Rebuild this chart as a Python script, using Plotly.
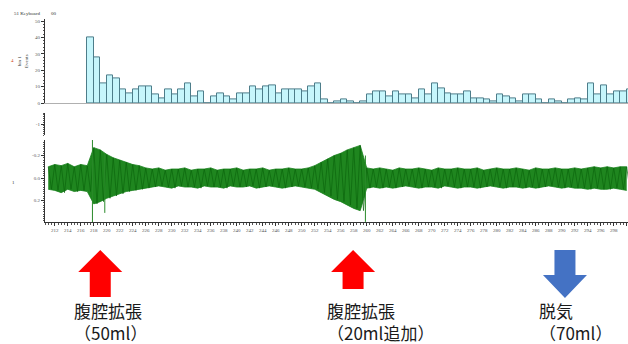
import plotly.graph_objects as go

W, H = 628, 344
ML = 45  # left margin (px)

# ---------------- data ----------------
bin_start = 217
event_counts = [40, 28, 12, 17, 15, 8, 6, 8, 10, 10, 5, 3, 8, 5, 8, 12, 4, 7, 0, 4,
                6, 4, 2, 6, 6, 10, 8, 10, 11, 6, 8, 8, 8, 7, 10, 12, 2, 0, 1,
                2, 1, 0, 1, 5, 7, 7, 4, 7, 5, 5, 3, 8, 5, 12, 9, 6, 5, 5, 7, 3,
                3, 2, 1, 5, 4, 3, 1, 5, 5, 2, 0, 2, 1, 0, 2, 3, 2, 12, 5, 11, 5, 7, 7, 8]
bin_times = [bin_start + i + 0.5 for i in range(len(event_counts))]

wave_time = list(range(211, 301))
wave_top = [-0.10, -0.12, -0.11, -0.13, -0.10, -0.12, -0.11,
            -0.27, -0.25, -0.21, -0.18, -0.16, -0.14, -0.12, -0.11, -0.09,
            -0.08, -0.09, -0.07, -0.08, -0.08, -0.09, -0.07, -0.08, -0.08, -0.09,
            -0.07, -0.08, -0.08, -0.09, -0.07, -0.08, -0.08, -0.09, -0.07, -0.08,
            -0.08, -0.09, -0.08, -0.08, -0.09,
            -0.11, -0.14, -0.17, -0.20, -0.22, -0.25, -0.27, -0.29,
            -0.09, -0.08, -0.09, -0.08, -0.07, -0.09, -0.08, -0.08, -0.09, -0.08,
            -0.07, -0.09, -0.08, -0.08, -0.09, -0.08, -0.08, -0.09, -0.07, -0.08,
            -0.09, -0.08, -0.08, -0.09, -0.08, -0.07, -0.09, -0.08, -0.08, -0.09,
            -0.08, -0.08, -0.09, -0.08, -0.09, -0.10, -0.09, -0.10, -0.09, -0.10, -0.10]
wave_bottom = [0.10, 0.11, 0.13, 0.10, 0.12, 0.11, 0.12,
               0.23, 0.21, 0.18, 0.16, 0.14, 0.12, 0.11, 0.10, 0.09,
               0.08, 0.07, 0.08, 0.09, 0.07, 0.08, 0.08, 0.09, 0.07, 0.08,
               0.08, 0.09, 0.07, 0.08, 0.08, 0.07, 0.09, 0.08, 0.07, 0.08,
               0.09, 0.08, 0.07, 0.08, 0.09,
               0.10, 0.13, 0.16, 0.19, 0.21, 0.24, 0.27, 0.29,
               0.09, 0.08, 0.09, 0.08, 0.09, 0.08, 0.07, 0.08, 0.09, 0.08,
               0.08, 0.09, 0.07, 0.08, 0.09, 0.08, 0.08, 0.09, 0.08, 0.07,
               0.08, 0.09, 0.08, 0.08, 0.09, 0.08, 0.09, 0.08, 0.07, 0.08,
               0.09, 0.08, 0.09, 0.09, 0.10, 0.09, 0.10, 0.10, 0.09, 0.10, 0.11]
assert len(wave_top) == len(wave_time) == len(wave_bottom), (len(wave_top), len(wave_bottom))

spike_time = [217.8, 219.7, 259.8]
spike_up = [-0.36, -0.22, -0.20]
spike_down = [0.40, 0.31, 0.39]

x_ticks = list(range(212, 302, 2))

event_times = [219.0, 257.9, 290.5]
event_labels = ["腹腔拡張", "腹腔拡張", "脱気"]
event_amounts = ["（50ml）", "（20ml追加）", "（70ml）"]
event_dirs = ["up", "up", "down"]
event_colors = ["#ff0000", "#ff0000", "#4472c4"]
event_arrow_bottom = [297, 289, 298]

# ---------------- helpers ----------------
def py(p):
    return 1 - p / H

def pxp(p):
    return (p - ML) / (W - ML)

XR = [210.5, 300.2]
UNIT = (W - ML) / (XR[1] - XR[0])  # px per second

fig = go.Figure()

# histogram
fig.add_trace(go.Bar(x=bin_times, y=event_counts, width=1.0,
                     marker=dict(color="#c6f6fc", line=dict(color="#4d7d8a", width=1)),
                     xaxis="x2", yaxis="y", showlegend=False))

# waveform envelope (filled)
fig.add_trace(go.Scatter(x=wave_time, y=wave_top, mode="lines",
                         line=dict(color="#17801a", width=0.8),
                         xaxis="x", yaxis="y2", showlegend=False))
fig.add_trace(go.Scatter(x=wave_time, y=wave_bottom, mode="lines", fill="tonexty",
                         fillcolor="#1f861f", line=dict(color="#17801a", width=0.8),
                         xaxis="x", yaxis="y2", showlegend=False))
# oscillation texture between envelope values
zx, zy = [], []
for t, a, b in zip(wave_time, wave_top, wave_bottom):
    zx += [t, t + 0.5]
    zy += [a, b]
fig.add_trace(go.Scatter(x=zx, y=zy, mode="lines", line=dict(color="#0b650d", width=0.7),
                         xaxis="x", yaxis="y2", showlegend=False))
# spikes
sx, sy = [], []
for t, a, b in zip(spike_time, spike_up, spike_down):
    sx += [t, t, None]
    sy += [a, b, None]
fig.add_trace(go.Scatter(x=sx, y=sy, mode="lines", line=dict(color="#2a8a2a", width=1),
                         xaxis="x", yaxis="y2", showlegend=False))
# invisible trace for the small upper axis
fig.add_trace(go.Scatter(x=[XR[0]], y=[-1], mode="markers", marker=dict(opacity=0),
                         xaxis="x", yaxis="y3", showlegend=False, hoverinfo="skip"))

tickfont = dict(family="Liberation Serif", size=5, color="#555")

fig.update_layout(
    width=W, height=H,
    margin=dict(l=ML, r=0, t=0, b=0, autoexpand=False),
    paper_bgcolor="white", plot_bgcolor="white",
    bargap=0,
    xaxis=dict(domain=[0, 1], range=XR, anchor="y2", tickvals=x_ticks,
               showline=True, linecolor="#333", linewidth=1, ticks="outside",
               ticklen=3, tickcolor="#333", tickfont=tickfont, showgrid=False,
               zeroline=False,
               minor=dict(dtick=0.5, tick0=210, ticks="outside", ticklen=1.5, tickcolor="#555")),
    xaxis2=dict(domain=[0, 1], range=XR, anchor="y", showticklabels=False,
                showline=True, linecolor="#b0b0b0", linewidth=1, ticks="",
                showgrid=False, zeroline=False),
    yaxis=dict(domain=[py(103), py(19.4)], range=[0, 51], anchor="x2",
               tickvals=[0, 10, 20, 30, 40, 50], showline=True, linecolor="#333",
               linewidth=1, ticks="outside", ticklen=3, tickcolor="#333",
               tickfont=tickfont, showgrid=False, zeroline=False,
               minor=dict(dtick=2, ticks="outside", ticklen=1.5, tickcolor="#555")),
    yaxis2=dict(domain=[py(222), py(140)], range=[0.391, -0.338], anchor="x",
                tickvals=[-0.2, 0.0, 0.2], ticktext=["-0.2", "0.0", "0.2"],
                showline=True, linecolor="#333", linewidth=1, ticks="outside",
                ticklen=3, tickcolor="#333", tickfont=tickfont, showgrid=False,
                zeroline=False,
                minor=dict(dtick=0.02, ticks="outside", ticklen=1.5, tickcolor="#555")),
    yaxis3=dict(domain=[py(135), py(113)], range=[-0.88, -1.12], anchor="x",
                tickvals=[-1], ticktext=["-1"], showline=True, linecolor="#333",
                linewidth=1, ticks="outside", ticklen=3, tickcolor="#333",
                tickfont=tickfont, showgrid=False, zeroline=False,
                minor=dict(dtick=0.02, ticks="outside", ticklen=1.5, tickcolor="#555")),
)

small = dict(family="Liberation Serif", size=5, color="#333")
anns = [
    dict(x=pxp(12), y=py(14), text="51 Keyboard", font=small, xanchor="left"),
    dict(x=pxp(49), y=py(14), text="00", font=small, xanchor="left"),
    dict(x=pxp(12), y=py(61), text="4", font=dict(family="Liberation Serif", size=5, color="#d04020")),
    dict(x=pxp(23), y=py(61), text="bin 1<br>Events", font=small, textangle=-90),
    dict(x=pxp(13), y=py(182), text="1", font=small),
]
for a in anns:
    a.update(xref="paper", yref="paper", showarrow=False, yanchor="middle")
    a.setdefault("xanchor", "center")
    fig.add_annotation(**a)

# event arrows and labels
head_half = 22 / UNIT
shaft_half = 10.5 / UNIT
cjk = dict(family="Noto Sans CJK JP", size=17, color="#1a1a1a")
for t, lab, amt, d, col, bot in zip(event_times, event_labels, event_amounts,
                                     event_dirs, event_colors, event_arrow_bottom):
    if d == "up":
        top, base = py(250), py(272)
        b = py(bot)
        path = (f"M {t},{top} L {t + head_half},{base} L {t + shaft_half},{base} "
                f"L {t + shaft_half},{b} L {t - shaft_half},{b} L {t - shaft_half},{base} "
                f"L {t - head_half},{base} Z")
    else:
        top, base, tip = py(250), py(275), py(bot)
        path = (f"M {t - shaft_half},{top} L {t + shaft_half},{top} L {t + shaft_half},{base} "
                f"L {t + head_half},{base} L {t},{tip} L {t - head_half},{base} "
                f"L {t - shaft_half},{base} Z")
    fig.add_shape(type="path", path=path, xref="x", yref="paper",
                  fillcolor=col, line=dict(width=0))
    fig.add_annotation(x=t, y=py(321), xref="x", yref="paper", text=f"{lab}<br>{amt}",
                       showarrow=False, xanchor="left", yanchor="middle", align="left",
                       xshift=-28, font=cjk)

fig.write_html("out.html", config={"displayModeBar": False},
               post_script="document.body.style.margin='0';")
